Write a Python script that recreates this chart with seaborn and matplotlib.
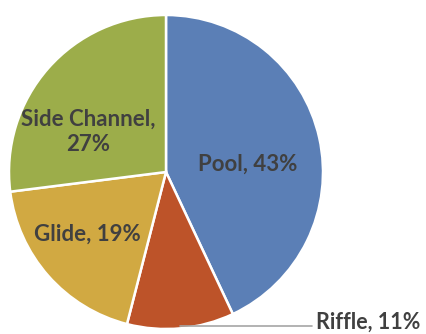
import matplotlib
matplotlib.use("Agg")
import matplotlib.pyplot as plt
import seaborn as sns

habitats = ["Pool", "Riffle", "Glide", "Side Channel"]
shares = [43, 11, 19, 27]
colors = ["#5b7fb6", "#bd5329", "#d1a942", "#9cad4a"]

sns.set_theme(style="white")
plt.rcParams["font.family"] = ["Lato", "DejaVu Sans"]

W, H = 427, 334
fig = plt.figure(figsize=(W / 100, H / 100), dpi=100)
cx, cy, r = 166, 172, 157
ax = fig.add_axes([(cx - r) / W, (H - cy - r) / H, 2 * r / W, 2 * r / H])

wedges, _ = ax.pie(
    shares,
    colors=colors,
    startangle=90,
    counterclock=False,
    radius=1.0,
    wedgeprops=dict(edgecolor="white", linewidth=1.8),
)
ax.set_xlim(-1, 1)
ax.set_ylim(-1, 1)
ax.set_aspect("equal")
ax.axis("off")

txt = dict(fontsize=16, fontweight="bold", color="#404040",
           ha="center", va="center", clip_on=False)
ax.text(0.522, 0.051, f"{habitats[0]}, {shares[0]}%", **txt)
ax.text(-0.497, 0.255, f"{habitats[3]},\n{shares[3]}%", linespacing=1.25, **txt)
ax.text(-0.503, -0.395, f"{habitats[2]}, {shares[2]}%", **txt)

# Riffle label sits outside the pie with a leader line
ax.plot([0.089, 0.93], [-0.98, -0.98], color="#a6a6a6", lw=1.2, clip_on=False)
ax.text(0.955, -0.955, f"{habitats[1]}, {shares[1]}%",
        **{**txt, "ha": "left", "fontsize": 15.5})

fig.savefig("out.png", dpi=100)
